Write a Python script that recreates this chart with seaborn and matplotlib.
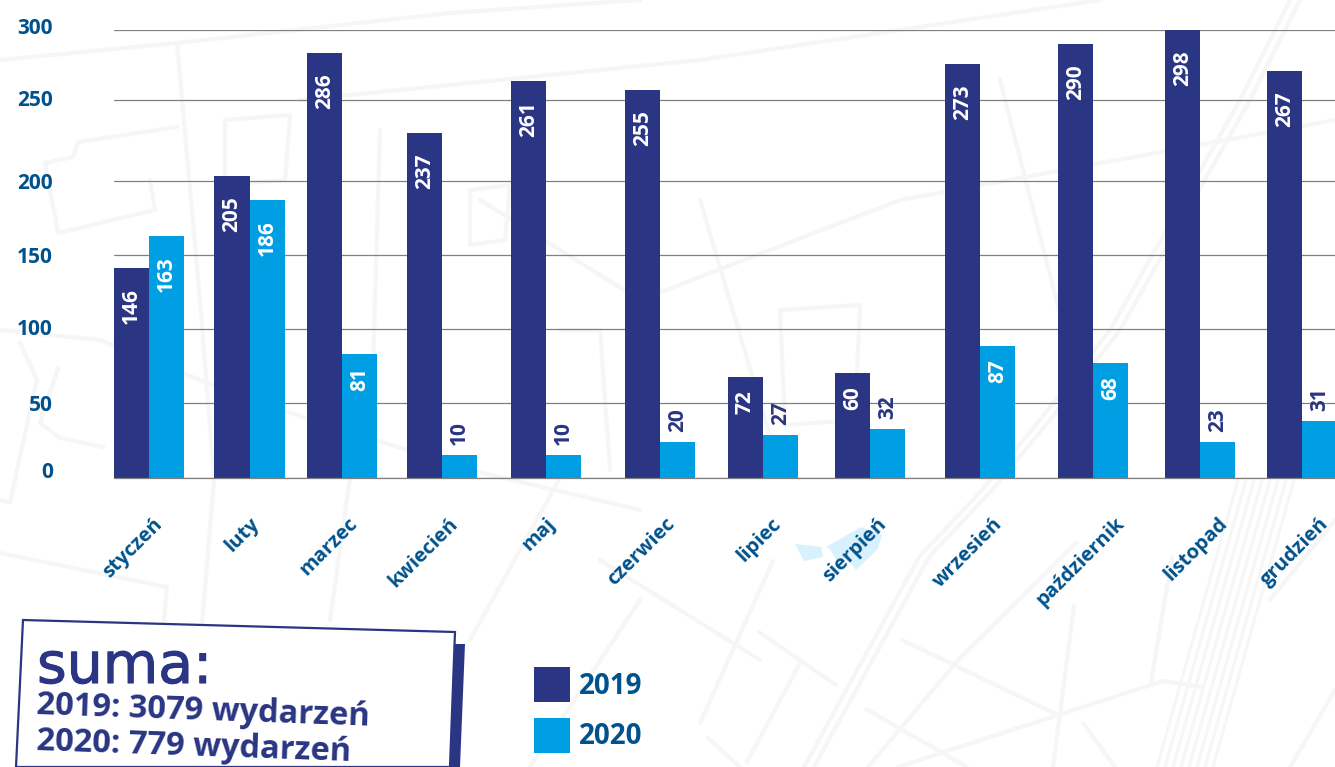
import pandas as pd
import matplotlib.pyplot as plt
import matplotlib.patheffects as pe
import seaborn as sns
from matplotlib.patches import Polygon, Rectangle
from matplotlib.transforms import ScaledTranslation

# -------------------------
# Dane
# -------------------------
miesiace = ["styczeń", "luty", "marzec", "kwiecień", "maj", "czerwiec", "lipiec",
            "sierpień", "wrzesień", "październik", "listopad", "grudzień"]
# wysokości słupków (nie zawsze zgadzają się z podpisami)
wys_2019 = [140.6, 202.2, 284.6, 231, 265.9, 259.8, 67.6, 70.3, 277.2, 290.6, 300, 272.5]
wys_2020 = [162, 186.2, 83, 15.4, 15.4, 24.1, 28.8, 32.8, 88.4, 77, 24.1, 38.2]
# podpisy na słupkach
pod_2019 = [146, 205, 286, 237, 261, 255, 72, 60, 273, 290, 298, 267]
pod_2020 = [163, 186, 81, 10, 10, 20, 27, 32, 87, 68, 23, 31]
# siatka jest w oryginale nierówna
siatka = [0, 50, 100, 149, 199, 253, 300]
siatka_opisy = ["0", "50", "100", "150", "200", "250", "300"]
# układ w pikselach
srodki_x = [149, 249.5, 342, 442, 546, 660, 763, 870, 980, 1093, 1200, 1302]
opisy_x = [160, 256, 355, 455, 552, 672, 778, 884, 1000, 1122, 1225, 1326]

GRANAT = "#2a3583"
BLEKIT = "#009fe3"
TEKST = "#00528c"
TLO = "#f6f6f6"

W, H = 1335, 767

sns.set_theme(style="white")
plt.rcParams["font.family"] = ["Open Sans", "DejaVu Sans"]

fig = plt.figure(figsize=(W / 100, H / 100), dpi=100, facecolor="white")

# -------------------------
# Tło: plan miasta, ramka z sumą, legenda (współrzędne w pikselach)
# -------------------------
bg = fig.add_axes([0, 0, 1, 1], zorder=0)
bg.set_xlim(0, W)
bg.set_ylim(H, 0)
bg.set_axis_off()

ulice = [
    [(804, 767), (919, 557), (983, 489), (1040, 420), (1110, 330), (1240, 100), (1290, 0)],
    [(814, 767), (929, 557), (993, 489), (1050, 420), (1120, 330), (1250, 100), (1300, 0)],
    [(902, 640), (1058, 715)],
    [(1076, 543), (959, 659), (868, 767)],
    [(866, 709), (967, 767)],
    [(1202, 687), (1163, 681), (898, 767)],
    [(1074, 606), (1053, 767)],
    [(1172, 557), (1151, 683)],
    [(1083, 723), (1115, 767)],
    [(759, 632), (836, 685)],
    [(799, 665), (747, 762)],
    [(708, 738), (740, 767)],
    [(773, 561), (700, 723)],
    [(0, 60), (177, 43), (450, 13), (640, 0)],
    [(177, 43), (200, 300), (214, 480), (190, 767)],
    [(45, 163), (73, 157), (78, 142), (177, 127)],
    [(45, 163), (58, 233), (155, 210), (150, 180)],
    [(0, 553), (167, 587), (150, 767)],
    [(20, 343), (37, 380), (10, 502), (0, 500)],
    [(58, 368), (40, 423), (60, 438), (103, 447)],
    [(0, 330), (100, 340), (250, 400), (470, 470), (640, 510)],
    [(350, 478), (330, 620)],
    [(560, 478), (470, 640)],
    [(600, 560), (760, 660)],
    [(640, 600), (530, 767)],
    [(300, 100), (700, 60), (1100, 0)],
    [(480, 200), (640, 300), (900, 200), (1335, 120)],
    [(700, 200), (780, 470)],
    [(1000, 80), (1100, 470)],
    [(380, 130), (370, 470)],
    [(1270, 600), (1335, 520)],
    [(1290, 767), (1335, 690)],
    [(225, 120), (290, 115), (285, 180), (225, 185), (225, 120)],
    [(470, 190), (510, 185), (505, 240), (470, 245), (470, 190)],
    [(780, 310), (860, 305), (855, 420), (785, 425), (780, 310)],
    [(560, 330), (600, 330), (610, 470)],
]
for ulica in ulice:
    xs, ys = zip(*ulica)
    bg.plot(xs, ys, color=TLO, lw=3, solid_capstyle="round", zorder=1)
# tory kolejowe
for d in range(0, 64, 8):
    bg.plot([1238 + d, 1157 + d], [480, 767], color=TLO, lw=2, zorder=1)

bg.add_patch(Polygon([(795, 544), (821, 547), (823, 557), (804, 561)], color="#d9f0fd", lw=0, zorder=2))
bg.add_patch(Polygon([(826, 547), (861, 527), (882, 535), (878, 549), (856, 570),
                      (846, 557), (838, 563), (830, 549)], color="#d9f0fd", lw=0, zorder=2))

# ramka z sumą
bg.add_patch(Polygon([(449, 644), (465, 644), (460, 767), (449, 767)], color=GRANAT, lw=0, zorder=3))
bg.add_patch(Polygon([(23, 620), (455, 632), (450, 767), (16, 767)], facecolor="white",
                     edgecolor=GRANAT, lw=1.6, zorder=4))
bg.text(37, 683, "suma:", family="DejaVu Sans", fontsize=41, color=GRANAT, va="baseline", zorder=5,
        path_effects=[pe.withStroke(linewidth=0.8, foreground=GRANAT)])
bg.text(37, 706, "2019: 3079 wydarzeń", fontsize=23.5, fontweight="bold", color=GRANAT,
        rotation=-2, rotation_mode="anchor", va="center", zorder=5)
bg.text(37, 742, "2020: 779 wydarzeń", fontsize=23.5, fontweight="bold", color=GRANAT,
        rotation=-2, rotation_mode="anchor", va="center", zorder=5)

# legenda
bg.add_patch(Rectangle((534, 667), 36, 35, color=GRANAT, lw=0, zorder=3))
bg.add_patch(Rectangle((534, 718), 36, 35, color=BLEKIT, lw=0, zorder=3))
bg.text(579, 687, "2019", fontsize=20, fontweight="bold", color=TEKST, va="center", zorder=5)
bg.text(579, 736, "2020", fontsize=20, fontweight="bold", color=TEKST, va="center", zorder=5)

# -------------------------
# Wykres słupkowy
# -------------------------
df = pd.DataFrame({
    "x": srodki_x * 2,
    "wartosc": wys_2019 + wys_2020,
    "rok": ["2019"] * 12 + ["2020"] * 12,
})

ax = fig.add_axes([114 / W, 1 - 478 / H, (W - 114) / W, 448 / H], zorder=1)
ax.patch.set_alpha(0)
sns.barplot(data=df, x="x", y="wartosc", hue="rok", native_scale=True, width=0.765,
            palette={"2019": GRANAT, "2020": BLEKIT}, saturation=1, legend=False,
            linewidth=0, ax=ax)

ax.set_xlim(114, W)
ax.set_ylim(0, 300)
ax.set_xlabel("")
ax.set_ylabel("")
sns.despine(ax=ax, left=True, right=True, top=True)
ax.spines["bottom"].set_color("#808080")
ax.spines["bottom"].set_linewidth(0.9)
ax.set_axisbelow(True)
ax.grid(axis="y", color="#808080", lw=0.9)

ax.set_yticks(siatka, siatka_opisy)
ax.tick_params(axis="y", length=0, pad=44, labelsize=15, labelcolor=TEKST)
for lab in ax.get_yticklabels():
    lab.set_fontweight("bold")
# opisy 0, 100, 250 i 300 stoją w oryginale wyżej niż ich linie
for i, px in [(0, 8), (2, 2), (5, 2), (6, 4)]:
    lab = ax.get_yticklabels()[i]
    lab.set_transform(lab.get_transform() + ScaledTranslation(0, px / 100, fig.dpi_scale_trans))

ax.set_xticks(opisy_x, miesiace)
ax.tick_params(axis="x", length=0, pad=31, labelsize=14.5, labelcolor=TEKST)
for lab in ax.get_xticklabels():
    lab.set(rotation=45, ha="right", va="center", rotation_mode="anchor", fontweight="bold")

# podpisy wartości
for kontener, podpisy in zip(ax.containers, [pod_2019, pod_2020]):
    for slupek, wartosc in zip(kontener, podpisy):
        x = slupek.get_x() + slupek.get_width() / 2
        if wartosc > 32 or wartosc == 72:
            odstep = -20 if wartosc >= 100 else -13
            ax.annotate(str(wartosc), (x, slupek.get_height()), xytext=(0, odstep * 0.72),
                        textcoords="offset points", rotation=90, ha="center", va="top",
                        color="white", fontsize=15, fontweight="bold", annotation_clip=False)
        else:
            ax.annotate(str(wartosc), (x, slupek.get_height()), xytext=(0, 10 * 0.72),
                        textcoords="offset points", rotation=90, ha="center", va="bottom",
                        color=GRANAT, fontsize=15, fontweight="bold", annotation_clip=False)

plt.savefig("out.png", dpi=100)
